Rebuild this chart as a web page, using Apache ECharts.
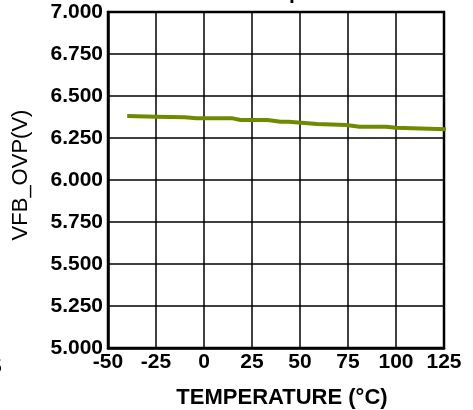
<!DOCTYPE html>
<html>
<head>
<meta charset="utf-8">
<script src="https://cdn.jsdelivr.net/npm/echarts@6/dist/echarts.min.js"></script>
<style>
html,body{margin:0;padding:0;background:#fff;}
#chart{width:473px;height:410px;}
</style>
</head>
<body>
<div id="chart"></div>
<script>
var temperatures = [-40, -25, -10, -4, 15, 19, 33, 40, 44, 59, 74, 81, 95, 100, 126];
var vfbOvp = [6.381, 6.377, 6.373, 6.367, 6.367, 6.357, 6.357, 6.347, 6.347, 6.333, 6.327, 6.317, 6.317, 6.311, 6.302];
var xTicks = [-50, -25, 0, 25, 50, 75, 100, 125];
var yTicks = [5.0, 5.25, 5.5, 5.75, 6.0, 6.25, 6.5, 6.75, 7.0];

var chart = echarts.init(document.getElementById('chart'), null, {renderer: 'canvas'});
var font = 'Liberation Sans, Arial, Helvetica, sans-serif';
var points = temperatures.map(function (t, i) { return [t, vfbOvp[i]]; });

chart.setOption({
  animation: false,
  backgroundColor: '#ffffff',
  grid: {left: 108, right: 29, top: 12, bottom: 62, containLabel: false, outerBoundsMode: 'none',
         show: true, borderColor: '#000', borderWidth: 2.5},
  xAxis: {
    type: 'value', min: xTicks[0], max: xTicks[xTicks.length - 1], interval: 25,
    name: 'TEMPERATURE (°C)', nameLocation: 'middle', nameGap: 39,
    nameTextStyle: {fontFamily: font, fontSize: 22, fontWeight: 'bold', color: '#000', padding: [0, 0, 0, 12]},
    axisLine: {show: true, onZero: false, lineStyle: {color: '#000', width: 2.5}},
    axisTick: {show: false},
    axisLabel: {fontFamily: font, fontSize: 21, fontWeight: 'bold', color: '#000', margin: 4},
    splitLine: {show: true, lineStyle: {color: '#000', width: 1.5}}
  },
  yAxis: {
    type: 'value', min: yTicks[0], max: yTicks[yTicks.length - 1], interval: 0.25,
    name: 'VFB_OVP(V)', nameLocation: 'middle', nameGap: 76, nameRotate: 90,
    nameTextStyle: {fontFamily: font, fontSize: 22, color: '#000', padding: [0, 0, 0, 10]},
    axisLine: {show: true, onZero: false, lineStyle: {color: '#000', width: 2.5}},
    axisTick: {show: false},
    axisLabel: {fontFamily: font, fontSize: 21, fontWeight: 'bold', color: '#000', margin: 5,
                formatter: function (v) { return v.toFixed(3); }},
    splitLine: {show: true, lineStyle: {color: '#000', width: 1.5}}
  },
  graphic: [
    {type: 'text', left: -10, top: 357, style: {text: '5', font: 'bold 21px ' + font, fill: '#000'}},
    {type: 'text', left: 289, top: -17, style: {text: 'p', font: 'bold 21px ' + font, fill: '#000'}}
  ],
  series: [{
    type: 'line', data: points, showSymbol: false, symbol: 'none',
    lineStyle: {color: '#6e8b00', width: 4}, clip: false
  }]
});
</script>
</body>
</html>
